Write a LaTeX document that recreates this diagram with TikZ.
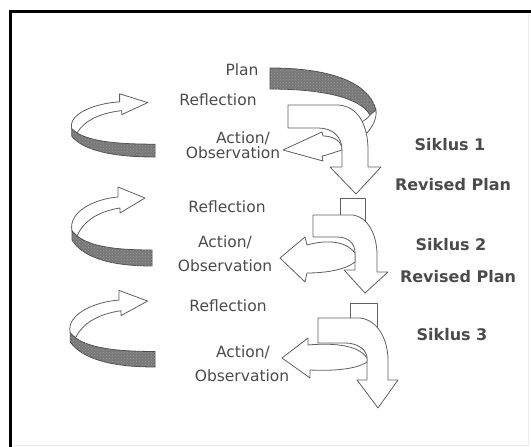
\documentclass[tikz,border=0pt]{standalone}
\usepackage{fontspec}
\setmainfont{DejaVu Sans}
\usepackage{tikz}
\usetikzlibrary{patterns}
\definecolor{inkgray}{RGB}{75,75,75}
\definecolor{linegray}{RGB}{95,95,95}
\definecolor{bandgray}{RGB}{120,120,120}

% one loop on the left (band + arrow up to the right)
\newcommand{\leftloop}{%
\draw [ribbon] (-80,-35) .. controls (-84,-54) and (-58,-67) .. (-34,-69) -- (-34,-79) -- (-7,-68) -- (-32,-53) -- (-32,-58) .. controls (-52,-55) and (-68,-46) .. (-75,-30) -- cycle;
\draw [band] (-80,-35) .. controls (-68,-20) and (-40,-16) .. (0,-16) -- (0,0) .. controls (-45,0) and (-70,-10) .. (-80,-26) -- cycle;
}

\begin{document}
\begin{tikzpicture}[x=1pt,y=-1pt,
  ribbon/.style={draw=linegray, line width=0.8pt, fill=white, line join=round},
  band/.style={draw=black!70, line width=0.8pt, fill=bandgray, postaction={pattern=crosshatch dots, pattern color=black!40}},
  lbl/.style={text=inkgray, inner sep=0pt, font=\fontsize{15.5}{17}\selectfont},
  blbl/.style={text=inkgray, inner sep=0pt, font=\fontsize{16}{18}\selectfont\bfseries}]
\useasboundingbox (0,0) rectangle (531,447);
% frame
\draw [gray!15, thin] (528,14) -- (528,445) -- (12,445);
\draw [line width=2.5pt] (10.5,447) -- (10.5,11.5) -- (531,11.5);

% left loops
\foreach \ox/\oy/\sx/\sy in {155/157/1.04/0.8, 152/266/1/1, 155/367/1.06/0.97}{
  \begin{scope}[shift={(\ox,\oy)}, xscale=\sx, yscale=\sy]
    \leftloop
  \end{scope}
}

% cycle 1
\draw [band] (270,68) .. controls (325,68) and (368,80) .. (376,110) -- (370,115) .. controls (362,100) and (330,89) .. (270,89) -- cycle;
\draw [ribbon] (376,110) .. controls (377,118) and (373,126) .. (367,133) -- (358,124) .. controls (364,121) and (368,118) .. (370,115) -- cycle;
\draw [ribbon] (283,150) -- (322,132) -- (323,136) .. controls (332,136) and (340,140) .. (342,147) -- (342,150) .. controls (335,152) and (328,155) .. (322,156) -- (323,161) -- cycle;
\draw [ribbon] (288,105) -- (338,105) .. controls (358,106) and (368,125) .. (368,150) -- (368,167) -- (381,167) -- (356,194) -- (330,167) -- (342,167) -- (342,150) .. controls (342,137) and (333,128) .. (318,128) -- (288,128) -- cycle;

% cycle 2
\draw [ribbon] (340,198) rectangle (365,230);
\draw [ribbon] (313,215) -- (353,215) .. controls (368,217) and (377,235) .. (377,255) -- (377,272) -- (388,272) -- (365,293) -- (344,270) -- (355,270) -- (355,253) .. controls (355,243) and (348,237) .. (337,237) -- (313,237) -- cycle;
\draw [ribbon] (280,258) -- (305,237) -- (307,245) .. controls (325,240) and (345,240) .. (355,253) -- (355,262) .. controls (345,270) and (325,273) .. (307,273) -- (305,282) -- cycle;

% cycle 3
\draw [ribbon] (350,303) rectangle (377,335);
\draw [ribbon] (318,318) -- (360,318) .. controls (378,320) and (388,340) .. (388,360) -- (388,380) -- (398,380) -- (378,408) -- (357,380) -- (367,380) -- (367,358) .. controls (367,350) and (358,343) .. (345,343) -- (318,343) -- cycle;
\draw [ribbon] (282,358) -- (308,338) -- (308,345) .. controls (330,343) and (358,344) .. (367,358) -- (367,362) .. controls (355,370) and (330,371) .. (310,370) -- (310,378) -- cycle;

% labels
\node [lbl] (plan) at (242,70) {Plan};
\node [lbl] (refl1) at (218,100) {Reflection};
\node [lbl] (act1) at (243,138) {Action/};
\node [lbl] (obs1) at (233,153) {Observation};
\node [blbl] (siklus1) at (450,145) {Siklus 1};
\node [blbl] (revplan1) at (453,185) {Revised Plan};
\node [lbl] (refl2) at (227,207) {Reflection};
\node [lbl] (act2) at (225,242) {Action/};
\node [lbl] (obs2) at (225,266) {Observation};
\node [blbl] (siklus2) at (451,245) {Siklus 2};
\node [blbl] (revplan2) at (458,277) {Revised Plan};
\node [lbl] (refl3) at (228,306) {Reflection};
\node [lbl] (act3) at (243,352) {Action/};
\node [lbl] (obs3) at (242,376) {Observation};
\node [blbl] (siklus3) at (452,335) {Siklus 3};
\end{tikzpicture}
\end{document}
